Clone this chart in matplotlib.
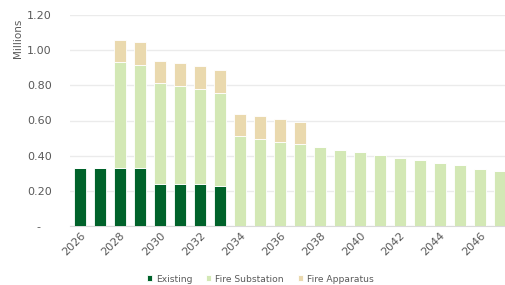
import matplotlib
matplotlib.use("Agg")
import matplotlib.pyplot as plt
import numpy as np

years = list(range(2026, 2048))
existing = [0.33, 0.33, 0.33, 0.33, 0.24, 0.24, 0.24, 0.23] + [0.0] * 14
fire_substation = [0.0, 0.0, 0.60, 0.585, 0.572, 0.556, 0.541, 0.525,
                   0.51, 0.495, 0.477, 0.465, 0.45, 0.433, 0.419, 0.404,
                   0.389, 0.373, 0.358, 0.345, 0.327, 0.313]
fire_apparatus = [0.0, 0.0, 0.128, 0.13, 0.128, 0.129, 0.127, 0.131,
                  0.128, 0.128, 0.133, 0.127] + [0.0] * 10
yticks = [0, 0.2, 0.4, 0.6, 0.8, 1.0, 1.2]
ytick_labels = ["-   ", "0.20", "0.40", "0.60", "0.80", "1.00", "1.20"]

c_exist = "#00622A"
c_sub = "#D3E8B5"
c_app = "#EAD9AE"
txt = "#595959"

fig = plt.figure(figsize=(5.05, 2.85), dpi=100)
ax = fig.add_axes([70 / 505, 59 / 285, 440 / 505, 211 / 285])

x = np.arange(len(years))
w = 0.64
ex = np.array(existing)
sb = np.array(fire_substation)
ap = np.array(fire_apparatus)
ax.bar(x, ex, w, color=c_exist, edgecolor="white", linewidth=0.6, label="Existing", zorder=3)
ax.bar(x, sb, w, bottom=ex, color=c_sub, edgecolor="white", linewidth=0.6, label="Fire Substation", zorder=3)
ax.bar(x, ap, w, bottom=ex + sb, color=c_app, edgecolor="white", linewidth=0.6, label="Fire Apparatus", zorder=3)

ax.set_xlim(-0.5, len(years) - 0.5)
ax.set_ylim(0, 1.2)
ax.set_yticks(yticks)
ax.set_yticklabels(ytick_labels, color=txt, fontsize=8)
ax.yaxis.grid(True, color="#EBEBEB", linewidth=1.0, zorder=0)
ax.tick_params(axis="y", length=0, pad=13)
ax.tick_params(axis="x", length=0, pad=3)
ax.set_xticks(x[::2])
ax.set_xticklabels([str(y) for y in years[::2]], rotation=45, ha="right",
                   rotation_mode="anchor", color=txt, fontsize=8)
for s in ["top", "right", "left"]:
    ax.spines[s].set_visible(False)
ax.spines["bottom"].set_color("#D9D9D9")
ax.spines["bottom"].set_linewidth(0.8)

fig.text(17.5 / 505, 1 - 38 / 285, "Millions", rotation=90, ha="center", va="center",
         color=txt, fontsize=7.5)

fig.legend(loc="center", bbox_to_anchor=(260 / 505, 1 - 279 / 285), ncol=3, frameon=False,
           fontsize=6.6, handlelength=0.6, handleheight=0.6, handletextpad=0.4,
           columnspacing=1.5, labelcolor=txt)

fig.savefig("out.png", dpi=100)
